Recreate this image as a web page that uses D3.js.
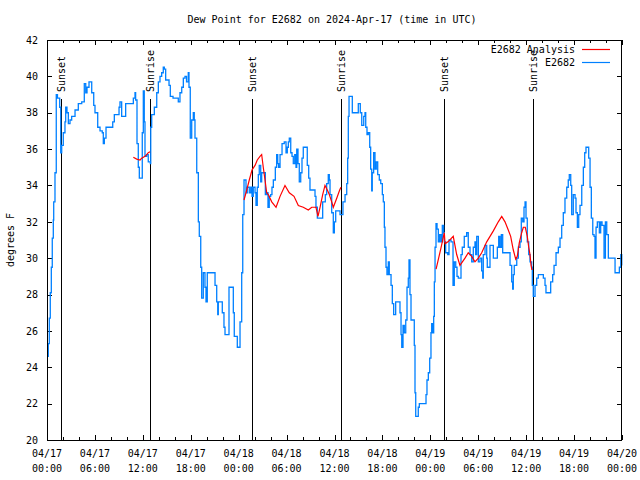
<!DOCTYPE html>
<html><head><meta charset="utf-8">
<script src="https://cdn.jsdelivr.net/npm/d3@7"></script>
<style>
body{margin:0;background:#fff}
svg{display:block}
text{font-family:'DejaVu Sans Mono','Liberation Mono',monospace;font-size:10px;fill:#000}
</style>
</head><body>
<svg id="chart" width="640" height="480"></svg>
<script>
// ---------- data ----------
const chartTitle = "Dew Point for E2682 on 2024-Apr-17 (time in UTC)";
const yAxisLabel = "degrees F";
const seriesNames = ["E2682 Analysis", "E2682"];
const seriesColors = ["#ff0000", "#0080ff"];
const yTicks = [20,22,24,26,28,30,32,34,36,38,40,42];
const xTickHours = [0,6,12,18,24,30,36,42,48,54,60,66,72];
const xTickLabels = [
  ["04/17","00:00"],["04/17","06:00"],["04/17","12:00"],["04/17","18:00"],
  ["04/18","00:00"],["04/18","06:00"],["04/18","12:00"],["04/18","18:00"],
  ["04/19","00:00"],["04/19","06:00"],["04/19","12:00"],["04/19","18:00"],
  ["04/20","00:00"]
];
const sunLabels = ["Sunset","Sunrise","Sunset","Sunrise","Sunset","Sunrise"];
const sunHours  = [1.75, 12.93, 25.7, 36.85, 49.75, 60.9];

// observed E2682 dew point: [hours since 2024-04-17 00:00 UTC, deg F]
const e2682 = [
[0.1,24.6],[0.16,25.3],[0.29,26.7],[0.41,28.1],[0.54,29.5],[0.66,31.1],[0.79,32.1],[0.84,33.1],[1.0,34.7],[1.16,39.0],
[1.31,38.8],[1.59,38.3],[1.72,35.8],[1.84,36.2],[2.04,36.9],[2.25,37.5],[2.34,38.3],[2.5,38.0],[2.67,37.4],[2.88,37.6],
[3.09,37.8],[3.51,38.15],[3.92,38.5],[4.35,38.6],[4.67,39.6],[4.85,39.1],[5.01,39.4],[5.26,39.7],[5.6,39.1],[5.85,38.4],
[6.01,38.0],[6.35,37.2],[6.64,37.0],[6.92,36.9],[7.05,36.3],[7.18,36.6],[7.39,37.2],[8.23,37.5],[8.43,37.9],[9.02,38.3],
[9.14,38.6],[9.35,37.8],[9.85,38.5],[10.81,38.8],[11.02,39.1],[11.1,38.7],[11.27,36.3],[11.43,35.0],[11.56,34.4],[11.93,36.9],
[12.06,39.2],[12.18,37.5],[12.27,35.6],[12.48,35.7],[12.68,35.3],[12.94,35.2],[12.99,37.2],[13.11,37.9],[13.44,38.3],[13.74,39.1],
[13.94,39.7],[14.15,40.0],[14.36,40.2],[14.56,40.5],[14.69,40.4],[14.86,39.8],[15.28,39.5],[15.44,38.9],[15.78,38.8],[16.44,38.6],
[16.65,39.1],[16.87,39.4],[17.07,39.9],[17.28,40.0],[17.47,39.7],[17.69,40.2],[17.78,39.4],[17.94,36.6],[18.12,37.6],[18.32,38.0],
[18.44,37.6],[18.53,36.6],[18.75,34.7],[18.95,32.0],[19.07,31.2],[19.25,29.5],[19.37,27.8],[19.57,29.2],[19.78,28.4],[19.91,27.6],
[20.07,29.2],[21.04,28.5],[21.25,27.6],[21.38,26.9],[21.45,27.6],[21.95,27.0],[22.16,26.2],[22.29,25.8],[22.79,28.4],[23.33,27.0],
[23.45,25.7],[23.83,25.1],[24.17,26.5],[24.38,29.2],[24.51,32.4],[24.67,34.3],[24.92,33.6],[25.08,33.9],[25.33,33.6],[25.51,33.9],
[25.67,33.4],[25.83,33.9],[26.05,33.6],[26.17,32.9],[26.33,33.9],[26.46,34.6],[26.58,35.1],[26.76,34.2],[26.88,34.7],[27.34,33.5],
[27.51,33.6],[27.67,32.8],[27.83,33.4],[28.01,33.5],[28.17,33.9],[28.34,34.3],[28.59,35.0],[28.76,35.7],[28.89,35.2],[29.01,35.0],
[29.18,35.7],[29.43,36.3],[29.71,36.4],[29.93,35.8],[30.09,36.1],[30.22,36.4],[30.34,36.6],[30.52,35.8],[30.68,35.6],[30.84,35.2],
[31.02,35.7],[31.18,35.0],[31.27,36.0],[31.43,35.2],[31.59,34.2],[31.77,34.7],[31.93,35.5],[32.09,36.1],[32.59,35.1],[32.77,34.4],
[32.93,33.75],[33.56,33.4],[33.68,32.8],[33.85,32.2],[34.52,33.1],[34.85,33.5],[35.02,34.1],[35.22,34.6],[35.35,34.3],[35.44,33.5],
[35.65,32.5],[35.85,31.4],[35.98,32.0],[36.15,32.6],[36.69,32.4],[37.06,33.1],[37.32,33.5],[37.53,34.1],[37.65,35.5],[37.73,37.8],
[37.82,38.9],[38.23,38.0],[38.98,38.5],[39.23,38.0],[39.41,37.3],[39.66,37.8],[39.82,38.0],[39.91,37.2],[40.07,36.8],[40.23,36.9],
[40.41,36.1],[40.53,34.9],[40.66,33.7],[40.73,34.7],[40.9,35.8],[41.07,34.9],[41.23,35.3],[41.41,34.6],[41.61,34.3],[41.79,34.1],
[41.99,33.5],[42.11,33.1],[42.24,31.7],[42.32,30.6],[42.45,29.5],[42.57,29.1],[42.74,29.8],[42.86,29.1],[43.08,28.5],[43.24,27.5],
[43.41,26.9],[43.66,27.6],[44.2,27.0],[44.33,25.8],[44.42,25.1],[44.58,26.3],[44.74,25.9],[44.92,26.6],[45.08,28.4],[45.24,28.9],
[45.33,29.9],[45.45,28.0],[45.58,26.6],[45.99,25.2],[46.08,22.6],[46.17,21.3],[46.49,21.8],[46.62,22.0],[47.46,22.5],[47.58,23.3],
[47.75,23.7],[47.92,24.5],[48.08,25.9],[48.17,26.4],[48.3,25.9],[48.42,26.8],[48.5,28.7],[48.59,30.6],[48.71,31.9],[48.84,31.6],
[49.0,30.9],[49.17,31.3],[49.34,30.9],[49.5,31.8],[49.67,31.4],[49.75,30.9],[49.92,30.3],[50.18,30.2],[50.34,31.0],[50.59,30.9],
[50.84,28.5],[51.0,29.8],[51.18,29.5],[51.34,29.0],[51.5,28.9],[51.84,30.2],[52.0,30.6],[52.25,31.2],[52.55,31.4],[52.75,30.6],
[52.97,30.2],[53.18,29.8],[53.38,30.6],[53.59,30.9],[53.68,30.2],[53.81,31.2],[54.01,29.8],[54.22,30.0],[54.43,29.3],[54.56,28.9],
[54.63,30.2],[54.85,30.7],[55.06,30.0],[55.13,29.5],[55.47,30.7],[55.89,30.0],[56.39,30.6],[56.56,31.2],[56.72,30.6],[56.89,31.3],
[57.06,30.3],[57.98,29.6],[58.19,28.7],[58.31,28.3],[58.39,29.1],[58.51,29.6],[58.82,30.0],[59.02,30.6],[59.23,30.9],[59.39,32.2],
[59.57,32.0],[59.73,32.8],[59.86,33.1],[59.98,32.2],[60.14,30.9],[60.32,30.2],[60.48,29.8],[60.69,29.5],[60.77,28.5],[60.89,27.9],
[61.11,28.5],[61.32,28.9],[61.52,29.1],[62.15,28.9],[62.36,28.5],[62.48,28.1],[63.07,28.7],[63.32,29.1],[63.49,29.6],[63.74,30.3],
[64.03,30.6],[64.24,31.1],[64.45,31.8],[64.65,32.5],[64.86,33.3],[65.08,33.9],[65.27,34.3],[65.4,34.6],[65.58,34.0],[65.7,32.4],
[65.9,33.5],[66.12,33.3],[66.24,32.5],[66.41,31.7],[66.58,32.4],[66.74,32.9],[66.96,34.0],[67.16,35.0],[67.33,35.8],[67.49,36.1],
[67.83,35.5],[68.0,33.9],[68.16,32.2],[68.34,31.3],[68.5,31.2],[68.62,30.0],[68.75,31.7],[68.91,32.0],[69.16,31.4],[69.33,32.0],
[69.5,31.8],[69.75,30.0],[69.92,32.0],[70.09,31.3],[70.29,30.0],[71.13,29.2],[71.67,29.5],[71.85,30.2],[71.97,29.6]
];

// E2682 analysis (three separate runs)
const analysisRun1 = [[10.81,35.55],[11.23,35.45],[11.65,35.4],[11.86,35.5],[12.27,35.6],[12.48,35.7],[12.68,35.8],[12.9,35.85]];
const analysisRun2 = [[24.67,33.2],[25.01,33.75],[25.33,34.3],[25.67,34.85],[26.05,35.1],[26.33,35.4],[26.67,35.6],[26.88,35.7],
  [27.08,35.0],[27.3,34.3],[27.51,33.6],[27.71,33.5],[28.14,33.1],[28.68,32.8],[29.18,33.4],[29.8,34.0],[30.34,33.6],[30.93,33.4],
  [31.47,32.9],[32.09,32.8],[32.72,32.65],[33.15,32.8],[33.68,32.8],[33.93,32.3],[34.19,32.8],[34.52,33.5],[34.81,34.0],[35.1,33.75],
  [35.35,33.5],[35.65,33.1],[35.85,32.8],[36.28,33.3],[36.65,33.75],[36.81,33.9]];
const analysisRun3 = [[48.72,29.4],[49.3,30.5],[49.75,31.4],[49.84,30.8],[50.21,30.9],[50.87,31.2],[51.3,30.2],[51.71,29.6],
  [52.34,30.0],[52.75,30.3],[53.18,30.1],[53.59,29.8],[54.01,30.0],[54.43,30.3],[55.06,30.9],[55.89,31.5],[56.51,32.0],[56.94,32.3],
  [57.35,32.0],[57.76,31.55],[58.06,31.2],[58.39,30.45],[58.69,29.95],[58.89,30.1],[59.14,30.85],[59.44,31.4],[59.64,31.7],[59.89,31.7],
  [60.14,31.2],[60.32,30.6],[60.48,30.2],[60.61,29.6],[60.73,29.35]];

// ---------- layout ----------
const L = 47, R = 622, T = 40, B = 440;
const t0 = Date.UTC(2024, 3, 17, 0, 0);
const toDate = h => new Date(t0 + h * 3600000);

const svg = d3.select("#chart");
svg.append("rect").attr("width", 640).attr("height", 480).attr("fill", "#fff");

const x = d3.scaleUtc().domain([toDate(0), toDate(72)]).range([L, R]);
const y = d3.scaleLinear().domain([20, 42]).range([B, T]);

const minorHours = d3.range(0, 73, 2).filter(h => h % 6 !== 0);

function axisG(axis, tx, ty) {
  const g = svg.append("g").attr("transform", `translate(${tx},${ty})`)
    .attr("shape-rendering", "crispEdges").call(axis);
  g.select(".domain").remove();
  g.selectAll("line").attr("stroke", "#000");
  return g;
}
// bottom / top ticks (inward)
axisG(d3.axisBottom(x).tickValues(xTickHours.map(toDate)).tickSize(-5).tickFormat(""), 0, B);
axisG(d3.axisBottom(x).tickValues(minorHours.map(toDate)).tickSize(-3).tickFormat(""), 0, B);
axisG(d3.axisTop(x).tickValues(xTickHours.map(toDate)).tickSize(-5).tickFormat(""), 0, T);
axisG(d3.axisTop(x).tickValues(minorHours.map(toDate)).tickSize(-3).tickFormat(""), 0, T);
// left / right ticks
const gl = axisG(d3.axisLeft(y).tickValues(yTicks).tickSize(-5).tickPadding(9), L, 0);
gl.selectAll("text").attr("font-family", "'DejaVu Sans Mono',monospace").attr("font-size", 10).attr("fill", "#000");
axisG(d3.axisRight(y).tickValues(yTicks).tickSize(-5).tickFormat(""), R, 0);

// x tick labels (two lines)
const xl = svg.append("g");
xTickHours.forEach((h, i) => {
  const t = xl.append("text").attr("text-anchor", "middle");
  t.append("tspan").attr("x", x(toDate(h))).attr("y", 457).text(xTickLabels[i][0]);
  t.append("tspan").attr("x", x(toDate(h))).attr("y", 472).text(xTickLabels[i][1]);
});

// sunrise / sunset markers
sunHours.forEach((h, i) => {
  const sx = Math.round(x(toDate(h))) + 0.5;
  svg.append("line").attr("x1", sx).attr("x2", sx).attr("y1", 99).attr("y2", B)
    .attr("stroke", "#000").attr("stroke-width", 1);
  svg.append("text").attr("transform", `translate(${sx + 3.5},92) rotate(-90)`)
    .attr("text-anchor", "start").text(sunLabels[i]);
});

// series
const line = d3.line().x(d => x(toDate(d[0]))).y(d => y(d[1]));
svg.append("path").datum(e2682)
  .attr("d", line.curve(d3.curveStepAfter))
  .attr("fill", "none").attr("stroke", seriesColors[1]).attr("stroke-width", 1.3);

const lineLin = d3.line().x(d => x(toDate(d[0]))).y(d => y(d[1]));
[analysisRun1, analysisRun2, analysisRun3].forEach(run => {
  svg.append("path").datum(run).attr("d", lineLin)
    .attr("fill", "none").attr("stroke", seriesColors[0]).attr("stroke-width", 1.2);
});

// frame
svg.append("rect").attr("x", L + 0.5).attr("y", T + 0.5).attr("width", R - L - 1).attr("height", B - T - 0.5)
  .attr("fill", "none").attr("stroke", "#000").attr("stroke-width", 1).attr("shape-rendering", "crispEdges");

// title and axis label
svg.append("text").attr("x", 332).attr("y", 23).attr("text-anchor", "middle").text(chartTitle);
svg.append("text").attr("transform", "translate(14,240) rotate(-90)").attr("text-anchor", "middle").text(yAxisLabel);

// legend
const legendY = [49, 62];
seriesNames.forEach((name, i) => {
  svg.append("text").attr("x", 575).attr("y", legendY[i] + 4).attr("text-anchor", "end").text(name);
  svg.append("line").attr("x1", 582).attr("x2", 610).attr("y1", legendY[i] + 0.5).attr("y2", legendY[i] + 0.5)
    .attr("stroke", seriesColors[i]).attr("stroke-width", 1.2);
});
</script>
</body></html>
